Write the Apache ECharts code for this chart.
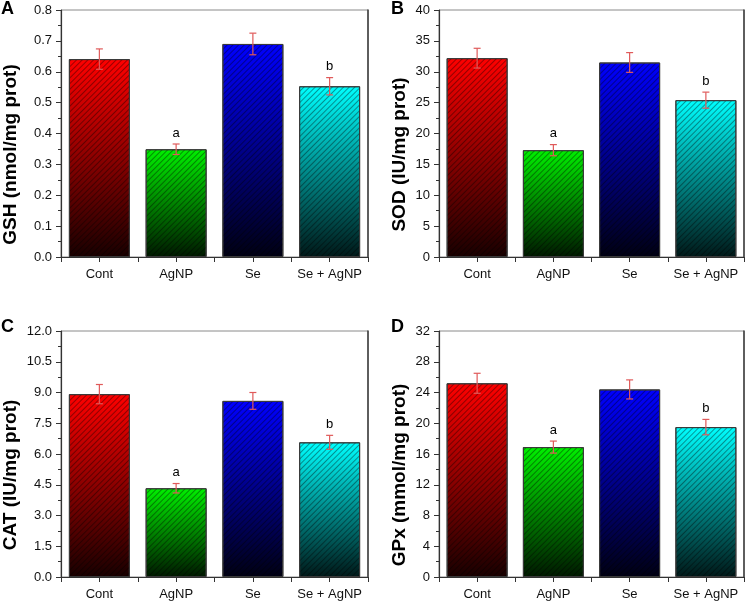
<!DOCTYPE html>
<html>
<head>
<meta charset="utf-8">
<script src="https://cdn.jsdelivr.net/npm/echarts@6/dist/echarts.min.js"></script>
<style>
html,body{margin:0;padding:0;background:#fff;}
#chart{width:747px;height:601px;}
</style>
</head>
<body>
<div id="chart"></div>
<script>
// ---- data ----
const categories = ['Cont', 'AgNP', 'Se', 'Se + AgNP'];
const letters = ['', 'a', '', 'b'];

const gshMean = [0.641, 0.349, 0.690, 0.553];
const gshErr  = [0.033, 0.017, 0.035, 0.028];
const sodMean = [32.2, 17.3, 31.5, 25.4];
const sodErr  = [1.6, 0.9, 1.6, 1.3];
const catMean = [8.92, 4.33, 8.59, 6.57];
const catErr  = [0.47, 0.23, 0.41, 0.34];
const gpxMean = [25.2, 16.9, 24.4, 19.5];
const gpxErr  = [1.3, 0.78, 1.24, 1.0];

const panelLetters = ['A', 'B', 'C', 'D'];
const yNames = ['GSH (nmol/mg prot)', 'SOD (IU/mg prot)', 'CAT (IU/mg prot)', 'GPx (mmol/mg prot)'];
const yMax = [0.8, 40, 12, 32];
const yInterval = [0.1, 5, 1.5, 4];
const yDecimals = [1, 0, 1, 0];

// ---- style ----
const barTop = ['#ff0000', '#00f000', '#0000ff', '#00ffff'];
const barBottom = ['#180000', '#001800', '#000012', '#001818'];
const errColor = '#e05a5a';
const FONT = 'Liberation Sans, Arial, sans-serif';

const panels = [
  {mean: gshMean, err: gshErr},
  {mean: sodMean, err: sodErr},
  {mean: catMean, err: catErr},
  {mean: gpxMean, err: gpxErr}
];

const grids = [
  {left: 61, top: 10, width: 307, height: 247},
  {left: 439, top: 10, width: 307, height: 247},
  {left: 61, top: 331, width: 307, height: 246},
  {left: 439, top: 331, width: 307, height: 246}
];
const nameGaps = [41, 30, 41, 30];

const option = {
  animation: false,
  backgroundColor: '#fff',
  textStyle: {fontFamily: FONT},
  grid: grids.map(g => Object.assign({show: true, borderColor: '#8a8a8a', borderWidth: 1, backgroundColor: 'transparent'}, g)),
  xAxis: [],
  yAxis: [],
  series: [],
  graphic: []
};

panels.forEach((p, k) => {
  option.xAxis.push({
    type: 'value', gridIndex: k, min: -0.5, max: 3.5, interval: 0.5,
    axisLine: {show: true, onZero: false, lineStyle: {color: '#333', width: 1.2}},
    axisTick: {show: true, inside: false, length: 5, lineStyle: {color: '#333'}},
    splitLine: {show: false},
    axisLabel: {
      color: '#111', fontSize: 13, fontFamily: FONT, margin: 11,
      showMinLabel: true, showMaxLabel: true,
      formatter: v => (Math.abs(v - Math.round(v)) < 1e-6 && v >= 0 && v <= 3) ? categories[Math.round(v)] : ''
    }
  });
  option.yAxis.push({
    type: 'value', gridIndex: k, min: 0, max: yMax[k], interval: yInterval[k],
    name: yNames[k], nameLocation: 'middle', nameGap: nameGaps[k], nameRotate: 90,
    nameTextStyle: {fontSize: 19, fontWeight: 'bold', color: '#000', fontFamily: FONT, padding: [0, 42, 0, 0]},
    axisLine: {show: true, onZero: false, lineStyle: {color: '#333', width: 1.2}},
    axisTick: {show: true, inside: false, length: 5, lineStyle: {color: '#333'}},
    minorTick: {show: true, splitNumber: 2, length: 3, lineStyle: {color: '#333'}},
    splitLine: {show: false},
    axisLabel: {color: '#111', fontSize: 13, fontFamily: FONT, margin: 9,
      formatter: v => v.toFixed(yDecimals[k])}
  });
  // right frame line
  option.yAxis.push({
    type: 'value', gridIndex: k, position: 'right', min: 0, max: yMax[k], interval: yInterval[k],
    axisLine: {show: true, onZero: false, lineStyle: {color: '#444', width: 1.6}},
    axisTick: {show: false}, axisLabel: {show: false}, splitLine: {show: false}
  });

  const yIdx = k * 2;
  option.series.push({
    type: 'bar', xAxisIndex: k, yAxisIndex: yIdx, barWidth: 61, z: 2,
    data: p.mean.map((v, i) => ({
      value: [i, v],
      itemStyle: {
        color: new echarts.graphic.LinearGradient(0, 0, 0, 1, [
          {offset: 0, color: barTop[i]},
          {offset: 1, color: barBottom[i]}
        ]),
        borderColor: '#3a3a3a', borderWidth: 1,
        decal: {
          symbol: 'rect', symbolSize: 1,
          dashArrayX: [1, 0], dashArrayY: [1, 2.5],
          rotation: -Math.PI / 4,
          color: 'rgba(0,0,0,0.38)'
        }
      }
    }))
  });
  option.series.push({
    type: 'custom', xAxisIndex: k, yAxisIndex: yIdx, z: 5,
    data: p.mean.map((v, i) => [i, v, p.err[i]]),
    renderItem: (params, api) => {
      const x = api.value(0), m = api.value(1), e = api.value(2);
      const t = api.coord([x, m + e]);
      const b = api.coord([x, m - e]);
      const hw = 3.5;
      const st = {stroke: errColor, lineWidth: 1.2};
      const children = [
        {type: 'line', shape: {x1: t[0], y1: t[1], x2: b[0], y2: b[1]}, style: st},
        {type: 'line', shape: {x1: t[0] - hw, y1: t[1], x2: t[0] + hw, y2: t[1]}, style: st},
        {type: 'line', shape: {x1: b[0] - hw, y1: b[1], x2: b[0] + hw, y2: b[1]}, style: st}
      ];
      const L = letters[params.dataIndex];
      if (L) {
        children.push({type: 'text', x: t[0], y: t[1] - 11,
          style: {text: L, fill: '#000', font: '13px ' + FONT, align: 'center', verticalAlign: 'middle'}});
      }
      return {type: 'group', children};
    }
  });
  option.graphic.push({
    type: 'text', left: (k % 2 === 0) ? 1 : 391, top: (k < 2) ? 0 : 318,
    style: {text: panelLetters[k], font: 'bold 18px ' + FONT, fill: '#000'}
  });
});

const chart = echarts.init(document.getElementById('chart'), null, {renderer: 'canvas'});
chart.setOption(option);
</script>
</body>
</html>
